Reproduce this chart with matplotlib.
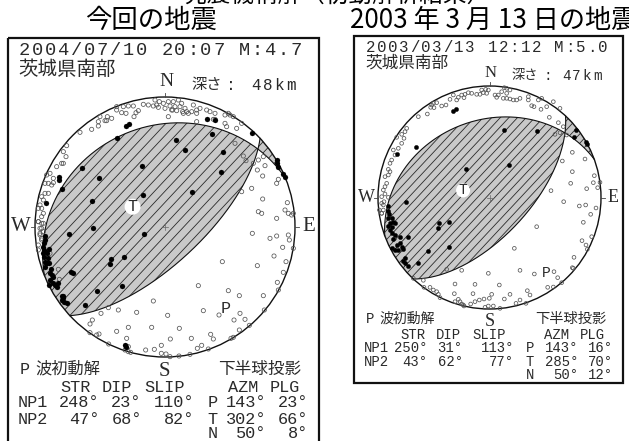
import numpy as np
import matplotlib
matplotlib.use("Agg")
import matplotlib.pyplot as plt
from matplotlib.patches import Circle, Polygon

# ---- values printed on the chart
LEFT_NP = [(248, 23), (47, 68)]
RIGHT_NP = [(250, 31), (43, 62)]
LEFT_AXES = {"T": (302, 66), "P": (143, 23), "N": (50, 8)}
RIGHT_AXES = {"T": (285, 70), "P": (143, 16), "N": (50, 12)}
LEFT_ROWS = [("NP1", "248", "23", "110", "P", "143", "23"),
             ("NP2", "47", "68", "82", "T", "302", "66"),
             ("", "", "", "", "N", "50", "8")]
RIGHT_ROWS = [("NP1", "250", "31", "113", "P", "143", "16"),
              ("NP2", "43", "62", "77", "T", "285", "70"),
              ("", "", "", "", "N", "50", "12")]

# ---- stations, crop-pixel coordinates (3x)
L_OPEN_TOP = [(465,300),(478,305),(470,315),(490,310),(505,305),(520,305),(535,300),(545,310),(460,318),(445,315),(430,313),(475,322),(495,325),(510,318),(525,320),(540,320),(515,330),(530,332),(548,335),(560,335),(575,335),(590,330),(600,325),(555,325),(580,315),(620,330),(630,335),(645,340),(590,340),(518,330),(550,340),(565,340),(505,350),(590,365),(640,358),(645,358),(675,345),(690,345),(700,350),(685,340),(675,370),(680,380),(725,370),(710,385),(705,430),(730,468),(738,482),(760,490),(775,480),(790,470),(795,497),(772,510),(788,528),(835,538),(830,550),(755,565),(725,575),(788,597),(862,608),(775,635),(785,640),(855,630),(865,640),(880,640),(875,645),(830,655),
 (350,320),(350,330),(370,320),(385,318),(400,318),(365,338),(378,340),(415,332),(408,338),(402,350),(300,350),(322,350),(335,355),(315,362),(320,362),(295,365),(295,378),(275,388),(240,397),(200,437),(190,455),(198,470),(185,490),(170,500),(190,490),(150,520),(140,525),(160,535),(145,550),(135,550),(160,548),(155,555),(145,580),(135,580),(125,590),(130,600),(120,615),(125,625),(115,625),(130,640),(125,650),(115,665),(125,670),(120,685),(130,695),(120,705),(125,715)]
L_OPEN_BOT = [(757,40),(810,55),(830,48),(865,45),(868,60),(880,85),(848,82),(822,108),(667,125),(772,137),(858,125),(850,157),(832,187),(835,210),(595,197),(685,212),(718,227),(790,227),(460,243),(610,272),(657,285),(720,280),(793,270),(702,300),(735,298),(748,316),(718,330),(355,270),(325,263),(303,280),(410,277),(503,286),(277,300),(270,312),(385,322),(455,322),(538,325),(350,334),(270,338),(297,342),(290,345),(380,355),(511,357),(574,355),(632,343),(640,357),(700,352),(693,355),(326,372),(605,376),(592,385),(625,387),(378,378),(385,380),(375,390),(385,395),(392,397),(437,390),(463,388),(484,376),(484,400),(498,402),(510,410),(537,408),(570,403),(175,148),(178,178),(150,100),(115,75),(115,90),(125,60),(120,40),(125,25),(130,10),(115,5)]
L_FILL_TOP = [(620,357),(645,360),(378,378),(387,373),(757,398),(350,415),(527,420),(636,402),(556,450),(670,457),(425,498),(245,505),(298,535),(662,515),(178,530),(178,540),(185,568),(577,575),(428,585),(138,610),(277,603),(830,480),(832,488),(835,500),(850,522),(855,530)]
L_FILL_BOT = [(208,42),(279,25),(433,43),(334,118),(330,132),(372,111),(212,155),(220,160),(367,199),(291,213),(255,255),(376,374),(377,380),(135,48),(135,60),(132,70),(130,80),(133,90),(130,100),(132,110),(148,88),(140,100),(145,115),(135,125),(142,130),(148,130),(135,140),(152,148),(150,158),(155,165),(160,170),(150,180),(148,195),(158,190),(165,195),(172,200),(175,190),(185,228),(190,228),(185,240),(192,245),(200,248),(190,235)]
R_OPEN_TOP = [(437,268),(425,270),(445,270),(430,278),(440,280),(420,283),(410,283),(395,280),(385,278),(375,283),(372,293),(365,285),(340,285),(330,298),(355,292),(350,300),(305,318),(318,315),(290,308),(280,310),(275,315),(272,322),(282,323),(262,342),(235,350),(200,385),(195,395),(185,403),(192,415),(170,412),(185,430),(175,445),(160,450),(165,465),(155,480),(150,490),(145,508),(150,515),(135,530),(145,525),(140,550),(135,560),(130,570),(135,582),(125,590),(145,592),
 (465,285),(475,285),(470,292),(485,275),(493,263),(500,280),(510,270),(490,295),(500,295),(510,297),(520,300),(530,300),(540,295),(500,265),(565,290),(565,300),(595,300),(605,295),(575,317),(582,320),(603,328),(620,320),(640,305),(660,325),(628,352),(655,368),(670,380),(645,403),(660,398),(680,405),(697,457),(735,477),(667,483),(697,515),(763,527),(760,548),(780,547),(773,563),(740,566),(692,550),(633,572),(125,610),(130,630),(125,640)]
R_OPEN_BOT = [(671,5),(718,18),(737,15),(768,24),(752,43),(730,67),(590,80),(726,122),(755,110),(738,135),(742,148),(702,172),(700,205),(697,203),(523,145),(445,220),(540,211),(583,222),(642,215),(653,233),(665,248),(623,262),(640,261),(365,211),(320,208),(250,241),(220,235),(345,252),(405,253),(478,255),(343,281),(399,281),(455,283),(510,283),(493,297),(448,295),(432,297),(418,300),(405,305),(392,312),(345,305),(355,298),(360,305),(365,312),(370,315),(372,318),(562,272),(570,285),(540,300),(528,310),(558,310),(480,325),(445,318),(460,318),(435,322),(270,262),(280,270),(290,275),(295,283),(252,262),(300,293),(118,30),(125,40),(130,15),(132,5),(165,115)]
R_FILL_TOP = [(340,332),(348,327),(707,390),(703,410),(737,425),(740,432),(491,390),(592,394),(228,440),(172,463),(508,496),(377,506)]
R_FILL_MID = [(85,48),(85,62),(88,72),(85,85),(95,85),(100,95),(90,100),(85,108),(95,110),(105,100),(90,120),(95,130),(105,135),(100,148),(120,140),(145,140),(120,158),(110,165),(125,170),(130,178),(105,180),(95,175),(115,180),(205,183),(135,205),(130,212),(135,220),(145,228),(175,220),(137,37),(238,100),(235,115),(268,95),(268,172)]

# ---- helpers
def crop(pts, x0, y0):
    a = np.array(pts, float) / 3
    return a[:, 0] + x0, a[:, 1] + y0

def schmidt(az, pl):
    r = np.sqrt(2) * np.sin(np.radians(90 - pl) / 2)
    a = np.radians(az)
    return r * np.sin(a), -r * np.cos(a)

def plane(strike, dip, n=241):
    al = np.radians(np.linspace(0, 180, n))
    s, d = np.radians(strike), np.radians(dip)
    e = np.cos(al) * np.sin(s) + np.sin(al) * np.cos(d) * np.cos(s)
    nn = np.cos(al) * np.cos(s) - np.sin(al) * np.cos(d) * np.sin(s)
    z = np.sin(al) * np.sin(d)
    return schmidt(np.degrees(np.arctan2(e, nn)), np.degrees(np.arcsin(np.clip(z, -1, 1))))

def arc(a0, a1, n=30):
    a = np.radians(np.linspace(a0, a1, n))
    return np.sin(a), -np.cos(a)

fig = plt.figure(figsize=(6.29, 4.41), dpi=100)
ax = fig.add_axes([0, 0, 1, 1])
ax.set_xlim(0, 629); ax.set_ylim(441, 0); ax.axis("off")

MONO, SERIF, JP = "Liberation Mono", "Liberation Serif", "Noto Sans CJK JP"
TXT = "#2a2a2a"

def beach(cx, cy, R, nps, axes_, spacing, Tr, lab_fs):
    (s1, d1), (s2, d2) = nps
    x1, y1 = plane(s1, d1); x2, y2 = plane(s2, d2)
    nx, ny = schmidt(*axes_["N"])
    i1 = np.argmin((x1 - nx) ** 2 + (y1 - ny) ** 2)
    i2 = np.argmin((x2 - nx) ** 2 + (y2 - ny) ** 2)
    ax1, ay1 = arc(s2 + 180, s1)
    lens = np.r_[np.c_[x1[:i1 + 1], y1[:i1 + 1]], np.c_[x2[i2:], y2[i2:]], np.c_[ax1, ay1]]
    ax2, ay2 = arc(s1 - 180, s2)
    sliver = np.r_[np.c_[x2[:i2 + 1], y2[:i2 + 1]], np.c_[x1[i1:], y1[i1:]], np.c_[ax2, ay2]]
    for poly in (lens, sliver):
        xy = np.c_[cx + R * poly[:, 0], cy + R * poly[:, 1]]
        p = Polygon(xy, closed=True, fc="#c9c9c9", ec="none", zorder=1)
        ax.add_patch(p)
        ang = np.radians(47)
        for off in np.arange(-2 * R, 2 * R, spacing):
            x0 = cx + off / np.sin(ang)
            l, = ax.plot([x0 - 2 * R, x0 + 2 * R],
                         [cy + 2 * R * np.tan(ang), cy - 2 * R * np.tan(ang)],
                         color="#2a2a2a", lw=0.6, zorder=2, scalex=False, scaley=False)
            l.set_clip_path(p)
    ax.plot(cx + R * x1, cy + R * y1, color="#111111", lw=0.8, zorder=3)
    ax.plot(cx + R * x2, cy + R * y2, color="#111111", lw=0.8, zorder=3)
    ax.add_patch(Circle((cx, cy), R, fc="none", ec="#111111", lw=1.0, zorder=3))
    for dx, dy in [(0, -1), (1, 0), (-1, 0)]:
        ax.plot([cx + dx * R, cx + dx * (R + 4)], [cy + dy * R, cy + dy * (R + 4)], color="#444444", lw=0.6, zorder=3)
    ax.plot([cx - 3, cx + 3], [cy, cy], color="#666666", lw=0.5, zorder=4)
    ax.plot([cx, cx], [cy - 3, cy + 3], color="#666666", lw=0.5, zorder=4)
    tx, ty = schmidt(*axes_["T"])
    ax.add_patch(Circle((cx + R * tx, cy + R * ty), Tr, fc="white", ec="none", zorder=6))
    ax.text(cx + R * tx, cy + R * ty, "T", family=MONO, fontsize=lab_fs, ha="center", va="center", color=TXT, zorder=7)
    px_, py_ = schmidt(*axes_["P"])
    ax.text(cx + R * px_, cy + R * py_, "P", family=MONO, fontsize=lab_fs, ha="center", va="center", color=TXT, zorder=7)

beach(165, 227, 130, LEFT_NP, LEFT_AXES, 7.6, 8, 12)
beach(489.5, 197.5, 111.5, RIGHT_NP, RIGHT_AXES, 6.3, 7, 10.5)

xs, ys = crop(L_OPEN_TOP, 0, 0); xb, yb = crop(L_OPEN_BOT, 0, 220)
ax.scatter(np.r_[xs, xb], np.r_[ys, yb], s=9, fc="none", ec="#555555", lw=0.55, zorder=4)
xs, ys = crop(L_FILL_TOP, 0, 0); xb, yb = crop(L_FILL_BOT, 0, 220)
ax.scatter(np.r_[xs, xb], np.r_[ys, yb], s=13, fc="black", ec="black", lw=0.2, zorder=5)
xs, ys = crop(R_OPEN_TOP, 340, 0); xb, yb = crop(R_OPEN_BOT, 340, 200)
ax.scatter(np.r_[xs, xb], np.r_[ys, yb], s=7, fc="none", ec="#555555", lw=0.55, zorder=4)
xs, ys = crop(R_FILL_TOP, 340, 0); xb, yb = crop(R_FILL_MID, 360, 190)
ax.scatter(np.r_[xs, xb], np.r_[ys, yb], s=10, fc="black", ec="black", lw=0.2, zorder=5)

# frames
BORDER = dict(fc="none", ec="#111111", lw=1.6, zorder=8, clip_on=True)
ax.add_patch(plt.Rectangle((7.5, 37.5), 311.5, 420, **BORDER))
ax.add_patch(plt.Rectangle((353.5, 35.5), 269.5, 347.5, **BORDER))

# titles
ax.text(183, 2, "発震機構解（初動解析結果）", family=JP, fontsize=17, ha="left", va="baseline", color="black")
ax.text(151, 20, "今回の地震", family=JP, fontsize=19, ha="center", va="center", color="black")
ax.text(350, 20, "2003 年 3 月 13 日の地震", family=JP, fontsize=18.8, ha="left", va="center", color="black")

def T(x, y, s, fam=MONO, fs=12, ha="left"):
    ax.text(x, y, s, family=fam, fontsize=fs, ha=ha, va="center", color=TXT, zorder=9)

def spaced(x, y, s, adv, fs):
    for i, ch in enumerate(s):
        if ch != " ":
            ax.text(x + adv * (i + 0.5), y, ch, family=MONO, fontsize=fs, ha="center", va="center", color=TXT, zorder=9)

# left annotations
spaced(18, 50.7, "2004/07/10 20:07 M:4.7", 12.95, 13.5)
T(18, 69, "茨城県南部", JP, 14)
T(191, 85, "深さ", JP, 11)
spaced(226, 85, ":", 10, 12)
spaced(250, 85, "48km", 11.7, 11.5)
T(166, 81, "N", SERIF, 14, "center"); T(20.7, 226.7, "W", SERIF, 15, "center")
T(309, 226.7, "E", SERIF, 15, "center"); T(164, 371.7, "S", SERIF, 15, "center")
T(20, 369, "P", fs=12); T(35, 369, "波初動解", JP, 11.7)
T(218, 369, "下半球投影", JP, 12)
for x, h in zip((60, 101.7, 144, 227.7, 270), ("STR", "DIP", "SLIP", "AZM", "PLG")):
    T(x, 387.7, h, fs=12.2)
for y, r in zip((402.7, 419, 434), LEFT_ROWS):
    T(17.3, y, r[0], fs=12.2); T(207.3, y, r[4], fs=12.2)
    for x, v in zip((99.3, 141.7, 194, 266.7, 308.3), (r[1], r[2], r[3], r[5], r[6])):
        if v:
            T(x, y, v + "°", fs=12.2, ha="right")

# right annotations
spaced(365, 47.3, "2003/03/13 12:12 M:5.0", 11.06, 11.3)
T(365, 62.7, "茨城県南部", JP, 12)
T(511.7, 76, "深さ", JP, 9.5)
spaced(543, 76, ":", 9, 10.5)
spaced(561, 76, "47km", 10.4, 10.3)
T(490.7, 72.7, "N", SERIF, 12, "center"); T(366.7, 197.3, "W", SERIF, 13, "center")
T(613, 197.3, "E", SERIF, 13, "center"); T(490, 321.7, "S", SERIF, 13, "center")
T(366, 319, "P", fs=10); T(379, 319, "波初動解", JP, 10)
T(535, 319, "下半球投影", JP, 10.3)
for x, h in zip((400, 436, 472.3, 544, 580), ("STR", "DIP", "SLIP", "AZM", "PLG")):
    T(x, 335, h, fs=10)
for y, r in zip((348.3, 361.7, 375), RIGHT_ROWS):
    T(364, y, r[0], fs=10); T(525.7, y, r[4], fs=10)
    for x, v in zip((427.3, 462.7, 514.3, 578.5, 612.7), (r[1], r[2], r[3], r[5], r[6])):
        if v:
            T(x, y, v + "°", fs=10, ha="right")

fig.savefig("out.png", dpi=100)
